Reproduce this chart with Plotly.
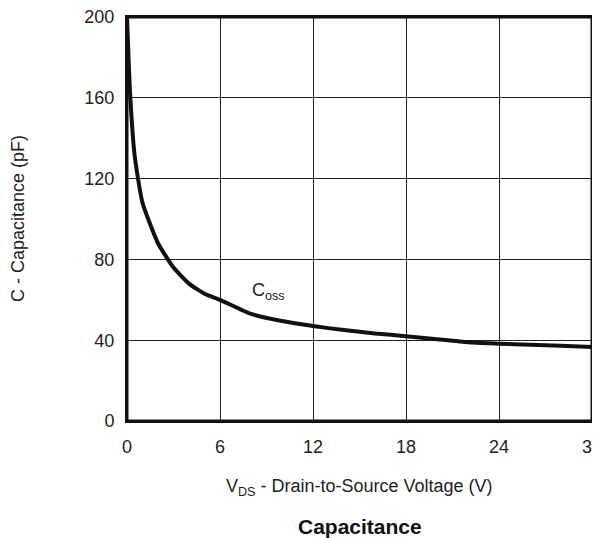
import plotly.graph_objects as go

vds = [0, 0.2, 0.5, 1, 2, 3, 4, 5, 6, 8, 10, 12, 14, 16, 18, 20, 22, 24, 26, 28, 30]
coss = [200, 162, 131, 108, 88, 76, 68, 63, 60, 53, 49.5, 47, 45, 43.3, 42, 40.5, 39, 38.3, 37.7, 37.2, 36.6]

x_ticks = [0, 6, 12, 18, 24, 30]
y_ticks = [0, 40, 80, 120, 160, 200]

FONT = "Liberation Sans, Arial, sans-serif"
TXT = "#222222"

fig = go.Figure()
fig.add_trace(go.Scatter(x=vds, y=coss, mode="lines",
                         line=dict(color="#111111", width=4, shape="spline", smoothing=0.5),
                         showlegend=False, hoverinfo="skip"))

axis_common = dict(ticks="", showgrid=True, automargin=False,
                   gridcolor="#222222", gridwidth=1.3, showline=True, linecolor="#111111",
                   linewidth=2, mirror=True, zeroline=False, ticklabeloverflow="allow",
                   tickfont=dict(size=18, color=TXT))

fig.update_layout(
    width=600, height=530,
    margin=dict(l=119, r=16, t=9, b=117, autoexpand=False),
    paper_bgcolor="white", plot_bgcolor="white",
    font=dict(family=FONT, size=18, color=TXT),
    xaxis=dict(range=[0, 30], tickvals=x_ticks, ticklabelstandoff=8, **axis_common),
    yaxis=dict(range=[0, 200], tickvals=y_ticks, ticklabelstandoff=7, **axis_common),
    shapes=[dict(type="rect", xref="paper", yref="paper", x0=0, y0=0, x1=1, y1=1,
                 line=dict(color="#111111", width=3), fillcolor="rgba(0,0,0,0)", layer="above")],
    annotations=[
        dict(x=9.1, y=64, xref="x", yref="y", text="C<sub>oss</sub>", showarrow=False,
             font=dict(size=18, family=FONT, color=TXT)),
        dict(x=0.5, y=-0.165, xref="paper", yref="paper", text="V<sub>DS</sub> - Drain-to-Source Voltage (V)",
             showarrow=False, yanchor="middle", font=dict(size=18, family=FONT, color=TXT)),
        dict(x=0.5, y=-0.26, xref="paper", yref="paper", text="<b>Capacitance</b>",
             showarrow=False, yanchor="middle", font=dict(size=21, family=FONT, color="#111111")),
        dict(x=-0.2344, y=0.5, xref="paper", yref="paper", text="C - Capacitance (pF)",
             showarrow=False, textangle=-90, xanchor="center", yanchor="middle",
             font=dict(size=18, family=FONT, color=TXT)),
    ],
)

fig.write_html("out.html")
